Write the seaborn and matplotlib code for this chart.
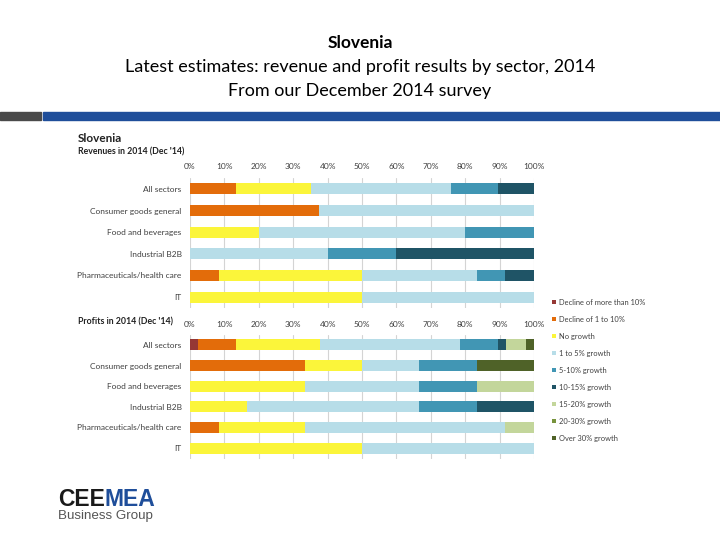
import numpy as np
import pandas as pd
import matplotlib.pyplot as plt
import seaborn as sns
from matplotlib.patches import Patch

sns.set_theme(style='white')
plt.rcParams['font.family'] = ['Lato', 'DejaVu Sans']

# data (% of respondents)
sectors = ['All sectors', 'Consumer goods general', 'Food and beverages',
           'Industrial B2B', 'Pharmaceuticals/health care', 'IT']
growth_labels = ['Decline of more than 10%', 'Decline of 1 to 10%', 'No growth',
                 '1 to 5% growth', '5-10% growth', '10-15% growth',
                 '15-20% growth', '20-30% growth', 'Over 30% growth']
colors = ['#953735', '#E36C0A', '#FBF53A', '#B7DDE8', '#4196B4',
          '#1F5466', '#C3D69B', '#77933C', '#4F6228']

rev_decline10 = [0, 0, 0, 0, 0, 0]
rev_decline = [13.3, 37.5, 0, 0, 8.3, 0]
rev_nogrowth = [21.8, 0, 20, 0, 41.7, 50]
rev_g1_5 = [40.7, 62.5, 60, 40, 33.3, 50]
rev_g5_10 = [13.7, 0, 20, 20, 8.3, 0]
rev_g10_15 = [10.5, 0, 0, 40, 8.4, 0]
rev_g15_20 = [0, 0, 0, 0, 0, 0]
rev_g20_30 = [0, 0, 0, 0, 0, 0]
rev_over30 = [0, 0, 0, 0, 0, 0]

prof_decline10 = [2.4, 0, 0, 0, 0, 0]
prof_decline = [10.9, 33.3, 0, 0, 8.3, 0]
prof_nogrowth = [24.6, 16.7, 33.3, 16.7, 25, 50]
prof_g1_5 = [40.6, 16.7, 33.4, 50, 58.4, 50]
prof_g5_10 = [11.0, 16.7, 16.7, 16.7, 0, 0]
prof_g10_15 = [2.4, 0, 0, 16.6, 0, 0]
prof_g15_20 = [5.7, 0, 16.6, 0, 8.3, 0]
prof_g20_30 = [0, 0, 0, 0, 0, 0]
prof_over30 = [2.4, 16.6, 0, 0, 0, 0]

ticks = list(range(0, 101, 10))
tick_labels = [f'{t}%' for t in ticks]

W, H = 720, 540
fig = plt.figure(figsize=(7.2, 5.4), dpi=100)


def px_axes(x0, y0, x1, y1):
    return fig.add_axes([x0 / W, 1 - y1 / H, (x1 - x0) / W, (y1 - y0) / H])


def stacked(ax, segs, pad):
    df = pd.DataFrame(dict(zip(growth_labels, segs)), index=sectors)
    cum = df.cumsum(axis=1)
    # draw cumulative totals from the widest down so each segment shows
    for lab, col in reversed(list(zip(growth_labels, colors))):
        sns.barplot(x=cum[lab].values, y=sectors, color=col, orient='h',
                    width=0.52, saturation=1, linewidth=0, errorbar=None, ax=ax)
    ax.set_xlim(0, 100)
    ax.set_xticks(ticks)
    ax.set_xticklabels(tick_labels)
    ax.xaxis.tick_top()
    ax.tick_params(axis='both', length=0, labelsize=6, colors='#404040')
    ax.tick_params(axis='x', pad=pad)
    ax.tick_params(axis='y', pad=6)
    ax.grid(axis='x', color='#d4d4d4', lw=0.8)
    ax.set_axisbelow(True)
    for s in ax.spines.values():
        s.set_visible(False)
    ax.set_xlabel('')
    ax.set_ylabel('')


# page title
fig.text(0.5, 1 - 43 / H, 'Slovenia', ha='center', va='center',
         fontsize=12.5, fontweight='bold', color='black')
fig.text(0.5, 1 - 67 / H, 'Latest estimates: revenue and profit results by sector, 2014',
         ha='center', va='center', fontsize=13, color='black')
fig.text(0.5, 1 - 91 / H, 'From our December 2014 survey',
         ha='center', va='center', fontsize=13, color='black')

# header rule
fig.patches.append(plt.Rectangle((0, 1 - 120 / H), 41 / W, 8 / H,
                                 transform=fig.transFigure, color='#4a4a4a'))
fig.patches.append(plt.Rectangle((43 / W, 1 - 120 / H), 1, 8 / H,
                                 transform=fig.transFigure, color='#1F4E9A'))

# section headers
fig.text(78 / W, 1 - 138 / H, 'Slovenia', ha='left', va='center',
         fontsize=8.5, fontweight='bold', color='#222222')
fig.text(78 / W, 1 - 152 / H, "Revenues in 2014 (Dec '14)", ha='left', va='center',
         fontsize=6.3, fontweight='bold', color='#222222')
fig.text(78 / W, 1 - 322 / H, "Profits in 2014 (Dec '14)", ha='left', va='center',
         fontsize=6.3, fontweight='bold', color='#222222')

ax1 = px_axes(190, 178, 534, 308)
stacked(ax1, [rev_decline10, rev_decline, rev_nogrowth, rev_g1_5, rev_g5_10,
              rev_g10_15, rev_g15_20, rev_g20_30, rev_over30], pad=6)

ax2 = px_axes(190, 334.5, 534, 458.5)
stacked(ax2, [prof_decline10, prof_decline, prof_nogrowth, prof_g1_5, prof_g5_10,
              prof_g10_15, prof_g15_20, prof_g20_30, prof_over30], pad=5)

handles = [Patch(facecolor=c, edgecolor='none', label=l)
           for c, l in zip(colors, growth_labels)]
fig.legend(handles=handles, loc='upper left', bbox_to_anchor=(545 / W, 1 - 292 / H),
           frameon=False, fontsize=5.4, handlelength=0.6, handleheight=0.6,
           handletextpad=0.4, labelspacing=1.33, labelcolor='#404040')

# logo
cee = fig.text(58 / W, 1 - 500 / H, 'CEE', ha='left', va='center', fontsize=16.5,
               fontweight='bold', color='#1a1a1a', family='Liberation Sans')
fig.canvas.draw()
bb = cee.get_window_extent()
fig.text(bb.x1 / W, 1 - 500 / H, 'MEA', ha='left', va='center', fontsize=16.5,
         fontweight='bold', color='#1F4E9A', family='Liberation Sans')
fig.text(58 / W, 1 - 516 / H, 'Business Group', ha='left', va='center',
         fontsize=9.6, color='#555555', family='Liberation Sans')

fig.savefig('out.png', dpi=100, facecolor='white')
